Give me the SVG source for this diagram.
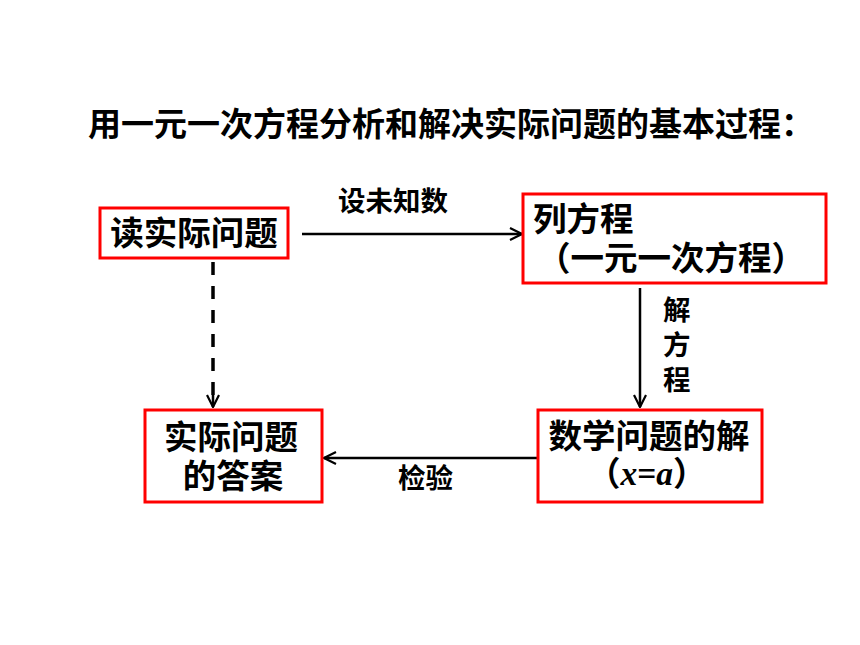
<svg xmlns="http://www.w3.org/2000/svg" width="860" height="645" viewBox="0 0 860 645">
<defs>
<style>
.t{font-family:"Noto Sans CJK SC","Liberation Sans",sans-serif;font-weight:bold;fill:#000}
.b{font-size:33.5px}
.l{font-size:27.5px}
.box{fill:#fff;stroke:#ff0000;stroke-width:3}
.c{stroke:#000;stroke-width:2.5;fill:none}
.ser{font-family:"Liberation Serif",serif;font-style:italic;font-weight:bold}
</style>
<marker id="ah" viewBox="0 0 14 14" refX="13" refY="7" markerWidth="14" markerHeight="14" markerUnits="userSpaceOnUse" orient="auto">
<path d="M1,1 L13,7 L1,13" fill="none" stroke="#000" stroke-width="2.2"/>
</marker>
</defs>
<rect width="860" height="645" fill="#fff"/>
<text class="t" x="88" y="136" font-size="33">用一元一次方程分析和解决实际问题的基本过程：</text>
<g id="connectors">
<line class="c" x1="302" y1="234" x2="522" y2="234" marker-end="url(#ah)"/>
<line class="c" x1="640" y1="288" x2="640" y2="407" marker-end="url(#ah)"/>
<line class="c" x1="538" y1="458" x2="324" y2="458" marker-end="url(#ah)"/>
<line x1="213" y1="262" x2="213" y2="400" stroke="#000" stroke-width="3.5" stroke-dasharray="13 11"/>
<line class="c" x1="213" y1="395" x2="213" y2="407" marker-end="url(#ah)"/>
<text class="t l" x="338" y="211">设未知数</text>
<text class="t l" x="663" y="320">解</text>
<text class="t l" x="663" y="355">方</text>
<text class="t l" x="663" y="390">程</text>
<text class="t l" x="398" y="488">检验</text>
</g>
<g id="n1">
<rect class="box" x="100" y="208" width="188" height="50"/>
<text class="t b" x="194" y="245" text-anchor="middle">读实际问题</text>
</g>
<g id="n2">
<rect class="box" x="523" y="194" width="303" height="89"/>
<text class="t b" x="533" y="231">列方程</text>
<text class="t b" x="537" y="270">（一元一次方程）</text>
</g>
<g id="n3">
<rect class="box" x="538" y="410" width="224" height="92"/>
<text class="t b" x="649" y="448" text-anchor="middle">数学问题的解</text>
<text class="t b" x="587" y="485">（<tspan class="ser">x</tspan><tspan font-family="Liberation Serif">=</tspan><tspan class="ser">a</tspan>）</text>
</g>
<g id="n4">
<rect class="box" x="145" y="410" width="177" height="92"/>
<text class="t b" x="231" y="449" text-anchor="middle">实际问题</text>
<text class="t b" x="233" y="488" text-anchor="middle">的答案</text>
</g>
</svg>
